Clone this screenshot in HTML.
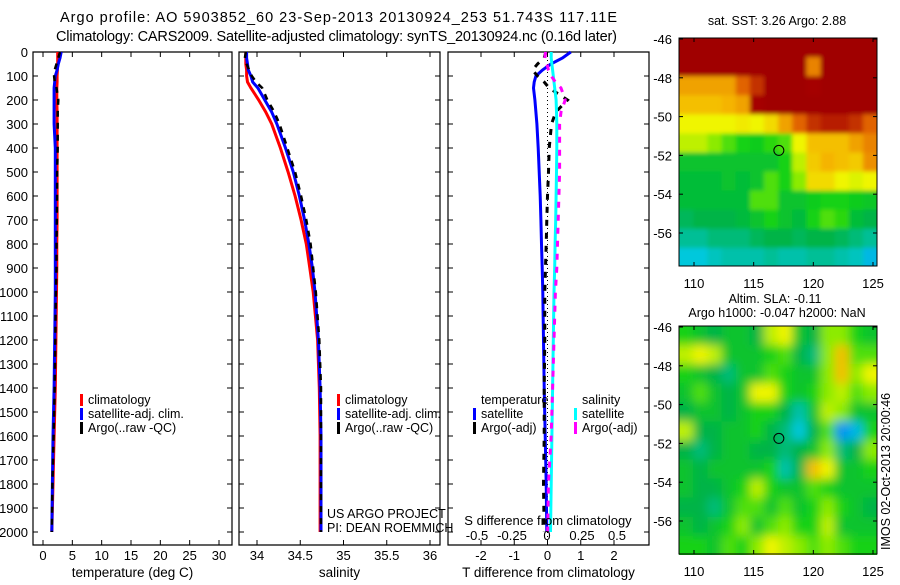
<!DOCTYPE html>
<html><head><meta charset="utf-8"><style>
body{margin:0;background:#fff;}
svg text{font-family:"Liberation Sans",sans-serif;fill:#000;}
</style></head><body>
<svg id="fig" xmlns="http://www.w3.org/2000/svg" width="900" height="580" viewBox="0 0 900 580">
<defs><filter id="blur2" x="-10%" y="-10%" width="120%" height="120%"><feGaussianBlur stdDeviation="5"/></filter><filter id="blur1" x="-10%" y="-10%" width="120%" height="120%"><feGaussianBlur stdDeviation="2"/></filter>
<clipPath id="c1"><rect x="679" y="38" width="198" height="228"/></clipPath>
<clipPath id="c2"><rect x="679" y="326" width="198" height="229"/></clipPath></defs>
<text x="60" y="22" font-size="14.5" textLength="557" lengthAdjust="spacing">Argo profile: AO 5903852_60 23-Sep-2013 20130924_253 51.743S 117.11E</text>
<text x="56" y="41" font-size="14.5" textLength="561" lengthAdjust="spacing">Climatology: CARS2009. Satellite-adjusted climatology: synTS_20130924.nc (0.16d later)</text>
<g id="g"></g>
</svg>
<script>
// ---- data ----
const depths = [0,25,50,75,100,125,150,200,250,300,400,500,600,700,800,900,1000,1200,1400,1600,1800,2000];
const tempClim = [2.5,2.5,2.5,2.45,2.4,2.4,2.35,2.35,2.4,2.4,2.4,2.4,2.4,2.4,2.35,2.35,2.3,2.2,2.1,1.9,1.7,1.5];
const tempSat = [3.1,2.9,2.6,2.4,2.1,2.0,1.9,1.9,1.9,1.9,2.1,2.1,2.1,2.1,2.1,2.1,2.1,2.0,1.9,1.7,1.6,1.5];
const tempArgo = [2.9,2.6,2.3,2.0,1.9,2.0,2.3,2.6,2.5,2.5,2.5,2.4,2.4,2.35,2.3,2.3,2.2,2.1,2.0,1.8,1.6,1.5];
const salClim = [33.87,33.87,33.87,33.88,33.88,33.89,33.93,34.02,34.1,34.17,34.27,34.36,34.44,34.51,34.57,34.61,34.65,34.7,34.72,34.73,34.73,34.73];
const salSat = [33.88,33.88,33.89,33.9,33.93,33.95,34.01,34.09,34.17,34.23,34.33,34.42,34.49,34.55,34.6,34.64,34.67,34.71,34.73,34.74,34.74,34.74];
const salArgo = [33.87,33.86,33.88,33.91,33.94,33.99,34.06,34.12,34.2,34.26,34.35,34.44,34.51,34.57,34.62,34.65,34.68,34.72,34.74,34.74,34.74,34.74];
const tDiffSat = [0.7,0.45,0.1,-0.15,-0.35,-0.4,-0.42,-0.38,-0.35,-0.32,-0.28,-0.25,-0.22,-0.2,-0.18,-0.16,-0.14,-0.12,-0.1,-0.07,-0.04,-0.02];
const tDiffArgo = [-0.05,-0.1,-0.3,-0.45,-0.3,-0.1,0.05,0.6,0.25,0.12,0.05,0.03,0.0,-0.02,-0.04,-0.06,-0.08,-0.08,-0.1,-0.1,-0.12,-0.1];
const sDiffSat = [0.03,0.03,0.035,0.04,0.045,0.05,0.055,0.065,0.068,0.07,0.07,0.068,0.065,0.062,0.058,0.055,0.05,0.045,0.04,0.035,0.03,0.025];
const sDiffArgo = [-0.01,-0.015,0.0,0.01,0.03,0.06,0.1,0.13,0.1,0.09,0.09,0.09,0.085,0.08,0.075,0.07,0.06,0.05,0.04,0.03,0.01,0.005];
const depthTicks = [0,100,200,300,400,500,600,700,800,900,1000,1100,1200,1300,1400,1500,1600,1700,1800,1900,2000];
const tempTicks = [0,5,10,15,20,25,30];
const salTicks = [34,34.5,35,35.5,36];
const tDiffTicks = [-2,-1,0,1,2];
const sDiffTicks = [-0.5,-0.25,0,0.25,0.5];
const sDiffTickLabels = ["-0.5","-0.25","0","0.25","0.5"];
const lonTicks = [110,115,120,125];
const latTicks = [-46,-48,-50,-52,-54,-56];
const sstGrid = [
[1,1,1,1,1,1,1,1,1,1,1,1,1,1],
[1,1,1,1,1,1,1,1,1,0.8,1,1,1,1],
[0.75,0.75,0.75,0.75,0.85,0.9,1,1,1,0.95,1,1,1,1],
[0.7,0.7,0.7,0.72,0.75,0.95,1,1,1,1,1,1,1,1],
[0.6,0.6,0.6,0.6,0.62,0.6,0.65,0.75,0.85,0.9,0.92,0.92,0.9,0.85],
[0.55,0.55,0.5,0.45,0.4,0.38,0.42,0.45,0.6,0.7,0.7,0.7,0.75,0.8],
[0.35,0.35,0.35,0.35,0.35,0.35,0.35,0.4,0.55,0.68,0.72,0.7,0.68,0.78],
[0.33,0.33,0.33,0.35,0.33,0.35,0.45,0.4,0.5,0.65,0.65,0.6,0.58,0.6],
[0.33,0.33,0.33,0.33,0.33,0.45,0.45,0.35,0.35,0.38,0.4,0.4,0.38,0.36],
[0.28,0.3,0.3,0.3,0.32,0.35,0.4,0.35,0.32,0.4,0.45,0.42,0.33,0.3],
[0.22,0.22,0.25,0.25,0.25,0.28,0.3,0.3,0.28,0.3,0.3,0.28,0.25,0.22],
[0.15,0.15,0.18,0.2,0.2,0.2,0.22,0.2,0.2,0.22,0.22,0.2,0.18,0.12]];
const slaGrid = [
[0.4,0.35,0.3,0.35,0.35,0.3,0.55,0.6,0.35,0.3,0.5,0.5,0.4,0.35],
[0.55,0.6,0.55,0.35,0.35,0.35,0.4,0.45,0.3,0.25,0.5,0.7,0.45,0.45],
[0.4,0.35,0.3,0.25,0.35,0.35,0.45,0.4,0.35,0.35,0.5,0.7,0.5,0.6],
[0.35,0.45,0.35,0.3,0.35,0.6,0.6,0.4,0.35,0.4,0.5,0.55,0.45,0.5],
[0.3,0.35,0.35,0.3,0.35,0.4,0.4,0.3,0.2,0.35,0.55,0.5,0.35,0.35],
[0.55,0.3,0.3,0.35,0.35,0.4,0.3,0.25,0.15,0.3,0.45,0.05,0.12,0.4],
[0.3,0.25,0.3,0.35,0.35,0.3,0.3,0.25,0.3,0.35,0.5,0.25,0.3,0.5],
[0.35,0.3,0.35,0.35,0.35,0.35,0.4,0.2,0.3,0.7,0.6,0.35,0.35,0.4],
[0.35,0.3,0.3,0.35,0.4,0.55,0.4,0.35,0.35,0.45,0.4,0.35,0.35,0.35],
[0.3,0.3,0.25,0.35,0.45,0.45,0.35,0.45,0.35,0.4,0.5,0.4,0.35,0.3],
[0.35,0.3,0.35,0.4,0.5,0.35,0.45,0.5,0.4,0.4,0.55,0.35,0.35,0.35],
[0.4,0.4,0.35,0.45,0.4,0.5,0.6,0.55,0.5,0.45,0.5,0.45,0.4,0.4]];

// ---- helpers ----
const NS="http://www.w3.org/2000/svg";
const G=document.getElementById('g');
function mk(tag,attrs,parent){const e=document.createElementNS(NS,tag);for(const k in attrs)e.setAttribute(k,attrs[k]);(parent||G).appendChild(e);return e;}
function lin(d0,d1,r0,r1){return v=>r0+(v-d0)*(r1-r0)/(d1-d0);}
const yDepth=lin(0,2000,52,532);
const TOP=52,BOT=545;

function panel(name,x0,x1,ticksX,labels,xs,title){
  const f=mk('path',{d:`M${x0},${TOP}H${x1}V${BOT}H${x0}Z`,fill:'none',stroke:'#000','stroke-width':1.2});
  
  
  depthTicks.forEach(d=>{const y=yDepth(d);
    mk('line',{x1:x0,x2:x0+5,y1:y,y2:y,stroke:'#000'});mk('line',{x1:x1,x2:x1-5,y1:y,y2:y,stroke:'#000'});});
  ticksX.forEach((t,i)=>{const x=xs(t);
    mk('line',{x1:x,x2:x,y1:TOP,y2:TOP+5,stroke:'#000'});mk('line',{x1:x,x2:x,y1:BOT,y2:BOT-5,stroke:'#000'});
    if(labels){const tx=mk('text',{x:x,y:560,'font-size':13,'text-anchor':'middle'});tx.textContent=labels[i];
      
      }
  });
  if(title){const tt=mk('text',{x:(x0+x1)/2,y:577,'font-size':13.5,'text-anchor':'middle'});tt.textContent=title;
    
    }
}
function line(vals,xs,color,w,dash,name,n){
  let d='';const N=n||vals.length;
  for(let i=0;i<N;i++){d+=(i?'L':'M')+xs(vals[i]).toFixed(1)+','+yDepth(depths[i]).toFixed(1);}
  const p=mk('path',{d:d,fill:'none',stroke:color,'stroke-width':w});
  if(dash)p.setAttribute('stroke-dasharray',dash);
  
  
}
function legend(x,y,items,name){
  items.forEach((it,i)=>{
    const r=mk('rect',{x:x,y:y+i*14-10,width:3,height:12,fill:it[0]});
    
    
    const t=mk('text',{x:x+8,y:y+i*14,'font-size':12.5});t.textContent=it[1];
    
    
  });
}

// depth labels
depthTicks.forEach(d=>{const t=mk('text',{x:28,y:yDepth(d)+5,'font-size':13,'text-anchor':'end'});t.textContent=d;
  
  });

// panel 1 temperature
const xT=lin(0,30,43,219);
panel('temperature-panel',33,232,tempTicks,tempTicks.map(String),xT,'temperature (deg C)');
line(tempClim,xT,'#f00',3,null,'temp-climatology-line');
line(tempSat,xT,'#00f',3,null,'temp-satellite-line');
line(tempArgo,xT,'#000',2.5,'6,6','temp-argo-line');
legend(80,404,[['#f00','climatology'],['#00f','satellite-adj. clim.'],['#000','Argo(..raw -QC)']],'temp-legend');

// panel 2 salinity
const xS=lin(34,36,257,430);
panel('salinity-panel',239,440,salTicks,salTicks.map(String),xS,'salinity');
line(salClim,xS,'#f00',3,null,'sal-climatology-line');
line(salSat,xS,'#00f',3,null,'sal-satellite-line');
line(salArgo,xS,'#000',2.5,'6,6','sal-argo-line');
legend(337,404,[['#f00','climatology'],['#00f','satellite-adj. clim.'],['#000','Argo(..raw -QC)']],'sal-legend');
const us=mk('text',{x:327,y:518,'font-size':12.5});us.textContent='US ARGO PROJECT';


const pi=mk('text',{x:327,y:532,'font-size':12.5});pi.textContent='PI: DEAN ROEMMICH';



// panel 3 differences
const xTd=lin(-2,2,481,614);
const xSd=lin(-0.5,0.5,477,617);
panel('difference-panel',448,649,tDiffTicks,tDiffTicks.map(String),xTd,'T difference from climatology');
mk('line',{x1:xTd(0),x2:xTd(0),y1:TOP,y2:BOT,stroke:'#000','stroke-dasharray':'1,3'});
line(tDiffSat,xTd,'#00f',3,null,'tdiff-satellite-line');
line(tDiffArgo,xTd,'#000',3,'6,7','tdiff-argo-line');
line(sDiffSat,xSd,'#0ff',3,null,'sdiff-satellite-line');
line(sDiffArgo,xSd,'#f0f',3,'6,7','sdiff-argo-line');
sDiffTicks.forEach((t,i)=>{const tx=mk('text',{x:xSd(t),y:540,'font-size':13,'text-anchor':'middle'});tx.textContent=sDiffTickLabels[i];
  
  });
const st=mk('text',{x:548,y:525,'font-size':13,'text-anchor':'middle'});st.textContent='S difference from climatology';


const lt1=mk('text',{x:481,y:404,'font-size':12.5});lt1.textContent='temperature';


const lt2=mk('text',{x:582,y:404,'font-size':12.5});lt2.textContent='salinity';


legend(473,418,[['#00f','satellite'],['#000','Argo(-adj)']],'diff-legend-temp');
legend(574,418,[['#0ff','satellite'],['#f0f','Argo(-adj)']],'diff-legend-sal');

// maps
const stops=[[0,[0,120,255]],[0.15,[0,200,220]],[0.3,[0,180,70]],[0.4,[20,210,20]],[0.5,[140,235,0]],[0.6,[240,245,0]],[0.72,[245,180,0]],[0.85,[225,100,0]],[0.95,[165,0,0]],[1,[160,0,0]]];
function cmap(v){for(let i=1;i<stops.length;i++){if(v<=stops[i][0]){const a=stops[i-1],b=stops[i],t=(v-a[0])/(b[0]-a[0]);
  return 'rgb('+a[1].map((c,k)=>Math.round(c+(b[1][k]-c)*t)).join(',')+')';}}return 'rgb(160,0,0)';}
const xLon=lin(110,125,694,873);
function drawMap(grid,y0,name,clip,filt,title1){
  const yLat=lin(-46,-56,y0+1,y0+195);
  const g=mk('g',{'clip-path':'url(#'+clip+')'});
  const g2=mk('g',{filter:'url(#'+filt+')'},g);
  const rows=grid.length,cols=grid[0].length;
  const lon0=108.75,lon1=125.35,lat0=-45.95,lat1=-57.75;
  for(let r=0;r<rows;r++)for(let c=0;c<cols;c++){
    const xa=xLon(lon0+(lon1-lon0)*c/cols),xb=xLon(lon0+(lon1-lon0)*(c+1)/cols);
    const ya=yLat(lat0+(lat1-lat0)*r/rows),yb=yLat(lat0+(lat1-lat0)*(r+1)/rows);
    const cell=mk('rect',{fill:cmap(grid[r][c])},g2);
    cell.setAttribute('x',c==0?xa-12:xa);cell.setAttribute('y',r==0?ya-12:ya);
    cell.setAttribute('width',xb-xa+(c==0?12:0)+(c==cols-1?12:0)+0.6);cell.setAttribute('height',yb-ya+(r==0?12:0)+(r==rows-1?12:0)+0.6);
    
    
  }
  const fr=mk('rect',{x:679,y:y0,width:198,height:228,fill:'none',stroke:'#000'});
  
  
  const ci=mk('circle',{cx:xLon(117.11),cy:yLat(-51.743),r:5,fill:'none',stroke:'#000'});
  
  
  latTicks.forEach(l=>{const y=yLat(l);mk('line',{x1:679,x2:683,y1:y,y2:y,stroke:'#000'});mk('line',{x1:877,x2:873,y1:y,y2:y,stroke:'#000'});
    const t=mk('text',{x:672,y:y+5,'font-size':13,'text-anchor':'end'});t.textContent=l;
    
    });
  lonTicks.forEach(l=>{const x=xLon(l);mk('line',{x1:x,x2:x,y1:y0,y2:y0+4,stroke:'#000'});mk('line',{x1:x,x2:x,y1:y0+228,y2:y0+224,stroke:'#000'});
    const t=mk('text',{x:x,y:y0+250,'font-size':13,'text-anchor':'middle'});t.textContent=l;
    
    });
  title1.forEach(tt=>{const t=mk('text',{x:tt[1],y:tt[2],'font-size':12.5,'text-anchor':'middle'});t.textContent=tt[0];
    
    });
}
drawMap(sstGrid,38,'sst-map','c1','blur1',[['sat. SST: 3.26  Argo: 2.88',777,25]]);
drawMap(slaGrid,326,'sla-map','c2','blur2',[['Altim. SLA: -0.11',775,303],['Argo h1000: -0.047 h2000: NaN',777,317]]);
const im=mk('text',{x:0,y:0,'font-size':12.5,transform:'translate(890,550) rotate(-90)'});im.textContent='IMOS 02-Oct-2013 20:00:46';


</script>
</body></html>
